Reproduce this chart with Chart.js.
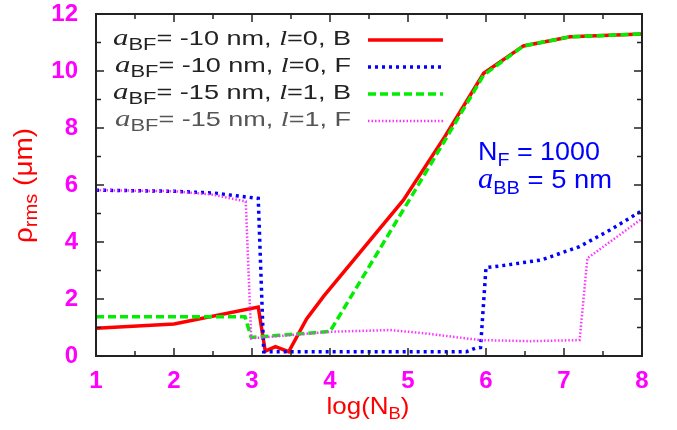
<!DOCTYPE html>
<html>
<head>
<meta charset="utf-8">
<script src="https://cdn.jsdelivr.net/npm/chart.js@4.4.1/dist/chart.umd.min.js"></script>
<style>
html, body { margin: 0; padding: 0; background: #fff; }
canvas { display: block; }
</style>
</head>
<body>
<canvas id="graficaRho" width="677" height="430"></canvas>
<script>
// log(N_B) vs rho_rms (um)
const xB10 = [1, 2, 3.08, 3.17, 3.3, 3.47, 3.7, 3.92, 4.94, 5.47, 5.97, 6.48, 7.08, 8];
const yB10 = [0.97, 1.12, 1.72, 0.17, 0.33, 0.15, 1.3, 2.1, 5.47, 7.69, 9.92, 10.88, 11.2, 11.3];

const xF10 = [1, 2, 2.5, 3.08, 3.15, 5.75, 5.86, 5.93, 6.0, 6.18, 6.71, 7.2, 7.59, 8];
const yF10 = [5.82, 5.78, 5.72, 5.53, 0.15, 0.15, 0.27, 0.3, 3.1, 3.16, 3.37, 3.84, 4.42, 5.1];

const xB15 = [1, 2.91, 2.99, 4.0, 5.0, 5.47, 5.97, 6.48, 7.08, 8];
const yB15 = [1.38, 1.38, 0.65, 0.86, 5.4, 7.55, 9.86, 10.88, 11.2, 11.3];

const xF15 = [1, 2, 2.5, 2.92, 2.99, 4.0, 4.77, 5.2, 5.92, 6.56, 7.2, 7.3, 8];
const yF15 = [5.82, 5.78, 5.66, 5.42, 0.62, 0.85, 0.91, 0.8, 0.56, 0.52, 0.56, 3.43, 4.82];

const aBF = ['-10', '-10', '-15', '-15'];
const lVals = ['0', '0', '1', '1'];
const tipo = ['B', 'F', 'B', 'F'];

const xTicks = [1, 2, 3, 4, 5, 6, 7, 8];
const yTicks = [0, 2, 4, 6, 8, 10, 12];

const SANS = "'Liberation Sans', Arial, sans-serif";
const SERIF = "'Liberation Serif', 'Times New Roman', serif";

const pares = (xs, ys) => xs.map((x, i) => ({ x: x, y: ys[i] }));

// text with subscripts / mixed fonts: parts = [[texto, font, dy]]
// anchoFinal: width the whole run is stretched to (the original is wider than Helvetica)
function textoRico(ctx, x, y, parts, align, anchoFinal) {
    let ancho = 0;
    parts.forEach(p => { ctx.font = p[1]; ancho += ctx.measureText(p[0]).width; });
    const f = anchoFinal ? anchoFinal / ancho : 1;
    let x0 = x;
    if (align === 'right') x0 = x - ancho * f;
    if (align === 'center') x0 = x - ancho * f / 2;
    ctx.save();
    ctx.translate(x0, y);
    ctx.scale(f, 1);
    ctx.textBaseline = 'alphabetic';
    ctx.textAlign = 'left';
    let cx = 0;
    parts.forEach(p => {
        ctx.font = p[1];
        ctx.fillText(p[0], cx, p[2] || 0);
        cx += ctx.measureText(p[0]).width;
    });
    ctx.restore();
}

const marco = {
    id: 'marco',
    afterDraw(chart) {
        const ctx = chart.ctx;
        const a = chart.chartArea;
        const sx = chart.scales.x, sy = chart.scales.y;
        ctx.save();
        ctx.strokeStyle = '#222';
        ctx.lineWidth = 2;
        ctx.setLineDash([]);
        ctx.strokeRect(a.left, a.top, a.right - a.left, a.bottom - a.top);

        // ticks pointing inward
        ctx.lineWidth = 1.5;
        ctx.beginPath();
        for (let v = 1; v <= 8.001; v += 0.5) {
            const px = sx.getPixelForValue(v);
            const len = Number.isInteger(v) ? 8 : 5;
            ctx.moveTo(px, a.bottom); ctx.lineTo(px, a.bottom - len);
            ctx.moveTo(px, a.top); ctx.lineTo(px, a.top + len);
        }
        for (let v = 0; v <= 12; v += 1) {
            const py = sy.getPixelForValue(v);
            const len = v % 2 === 0 ? 8 : 5;
            ctx.moveTo(a.left, py); ctx.lineTo(a.left + len, py);
            ctx.moveTo(a.right, py); ctx.lineTo(a.right - len, py);
        }
        ctx.stroke();

        // legend
        const sub = '17px ' + SANS;
        const main = '21px ' + SANS;
        const ita = 'italic 24px ' + SERIF;
        const itaL = 'italic 22px ' + SERIF;
        const anchos = [238, 236, 238, 236];
        chart.data.datasets.forEach((ds, i) => {
            const yb = 45 + i * 27;
            ctx.fillStyle = i === 3 ? '#555' : '#222';
            textoRico(ctx, 351, yb, [
                ['a', ita, 0],
                ['BF', sub, 5],
                ['= ' + aBF[i] + ' nm, ', main, 0],
                ['l', itaL, 0],
                ['=' + lVals[i] + ', ' + tipo[i], main, 0]
            ], 'right', anchos[i]);
            ctx.strokeStyle = ds.borderColor;
            ctx.lineWidth = ds.borderWidth;
            ctx.setLineDash(ds.borderDash || []);
            ctx.beginPath();
            ctx.moveTo(368, yb - 5);
            ctx.lineTo(443, yb - 5);
            ctx.stroke();
        });
        ctx.setLineDash([]);

        // annotation
        ctx.fillStyle = '#0000ff';
        textoRico(ctx, 478, 160, [
            ['N', '26px ' + SANS, 0],
            ['F', '19px ' + SANS, 6],
            [' = 1000', '26px ' + SANS, 0]
        ], 'left', 122);
        textoRico(ctx, 478, 188, [
            ['a', 'italic 29px ' + SERIF, 0],
            ['BB', '19px ' + SANS, 6],
            [' = 5 nm', '26px ' + SANS, 0]
        ], 'left', 134);

        // axis titles
        ctx.fillStyle = '#ff0000';
        textoRico(ctx, 368, 414, [
            ['log(N', '24px ' + SANS, 0],
            ['B', '17px ' + SANS, 5],
            [')', '24px ' + SANS, 0]
        ], 'center', 83);
        ctx.translate(32, 185.5);
        ctx.rotate(-Math.PI / 2);
        textoRico(ctx, 0, 0, [
            ['ρ', '25px ' + SANS, 0],
            ['rms', '18px ' + SANS, 5],
            [' (μm)', '25px ' + SANS, 0]
        ], 'center', 115);
        ctx.restore();
    }
};

new Chart(document.getElementById('graficaRho').getContext('2d'), {
    type: 'line',
    data: {
        datasets: [
            { label: 'B10', data: pares(xB10, yB10), borderColor: '#ff0000', borderWidth: 3.5, order: 4 },
            { label: 'F10', data: pares(xF10, yF10), borderColor: '#0000ff', borderWidth: 3.5, borderDash: [3, 4], order: 3 },
            { label: 'B15', data: pares(xB15, yB15), borderColor: '#00ee00', borderWidth: 3.5, borderDash: [8, 4], order: 2 },
            { label: 'F15', data: pares(xF15, yF15), borderColor: '#ff33ff', borderWidth: 2.5, borderDash: [1.5, 2], order: 1 }
        ]
    },
    options: {
        responsive: false,
        animation: false,
        devicePixelRatio: 1,
        elements: { point: { radius: 0 }, line: { tension: 0, fill: false, borderCapStyle: 'butt' } },
        layout: { padding: { top: 14, right: 35, left: 0, bottom: 0 } },
        plugins: { legend: { display: false }, tooltip: { enabled: false } },
        scales: {
            x: {
                type: 'linear', min: 1, max: 8,
                grid: { display: false, drawTicks: false },
                border: { display: false },
                afterBuildTicks: s => { s.ticks = xTicks.map(v => ({ value: v })); },
                ticks: { color: '#ff00ff', font: { family: SANS, size: 24, weight: 'bold' }, padding: 11 },
                afterFit: s => { s.height = 74; s.paddingLeft = 0; s.paddingRight = 0; }
            },
            y: {
                min: 0, max: 12,
                grid: { display: false, drawTicks: false },
                border: { display: false },
                afterBuildTicks: s => { s.ticks = yTicks.map(v => ({ value: v })); },
                ticks: { color: '#ff00ff', font: { family: SANS, size: 24, weight: 'bold' }, padding: 18 },
                afterFit: s => { s.width = 96; s.paddingTop = 0; s.paddingBottom = 0; }
            }
        }
    },
    plugins: [marco]
});
</script>
</body>
</html>
